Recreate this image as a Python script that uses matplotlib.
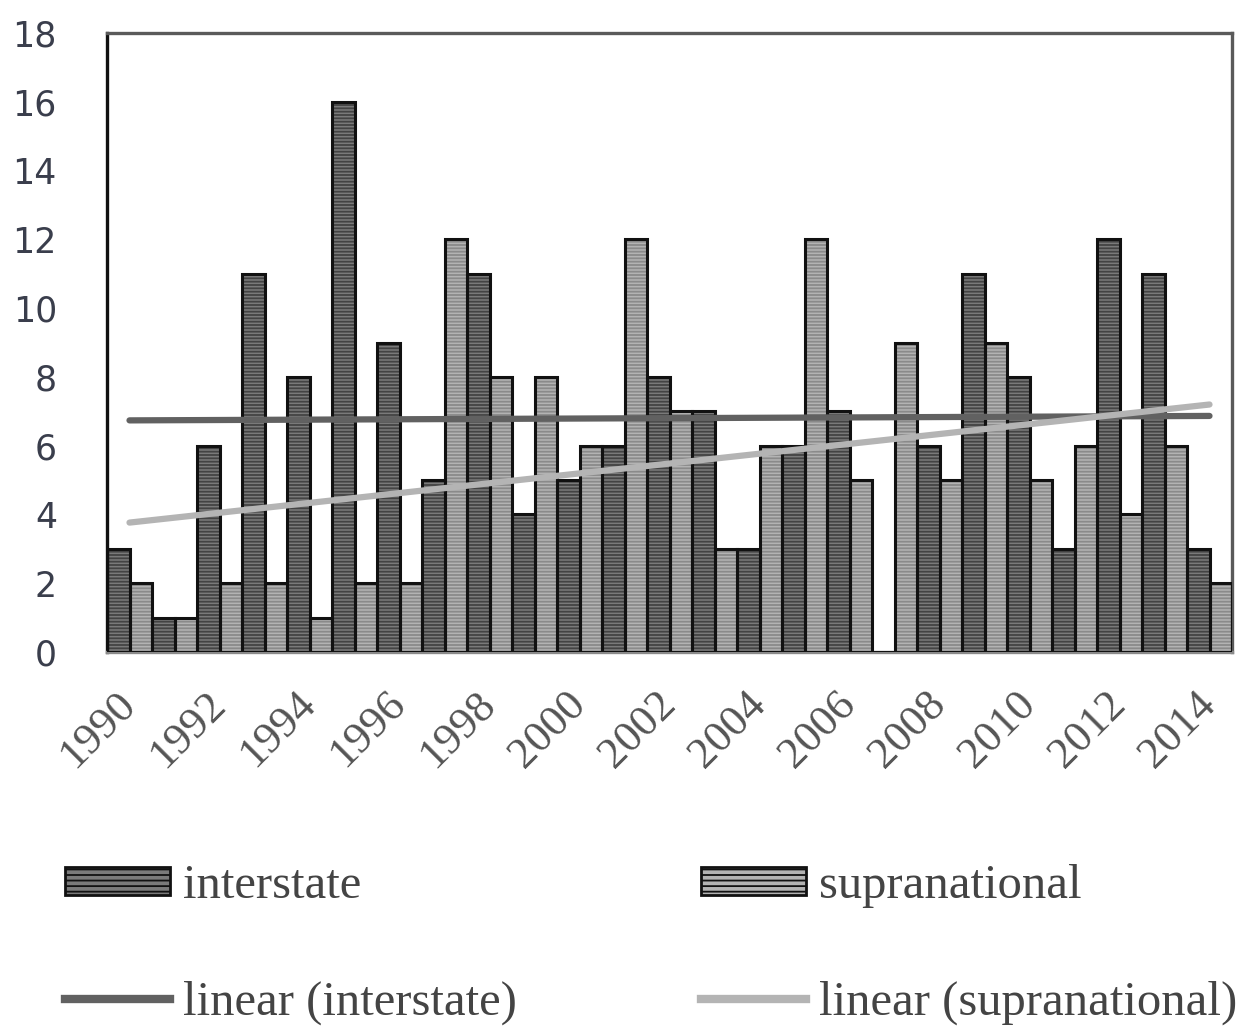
import numpy as np
import matplotlib
matplotlib.use("Agg")
import matplotlib.pyplot as plt
from matplotlib.patches import Patch
from matplotlib.lines import Line2D

years = list(range(1990, 2015))
interstate = [3, 1, 6, 11, 8, 16, 9, 5, 11, 4, 5, 6, 8, 7, 3, 6, 7, 0, 6, 11, 8, 3, 12, 11, 3]
supranational = [2, 1, 2, 2, 1, 2, 2, 12, 8, 8, 6, 12, 7, 3, 6, 12, 5, 9, 5, 9, 5, 6, 4, 6, 2]
tick_years = [str(y) for y in years[::2]]
y_ticks = list(range(0, 19, 2))
labels = ["interstate", "supranational", "linear (interstate)", "linear (supranational)"]

plt.rcParams['hatch.linewidth'] = 1.3

fig = plt.figure(figsize=(12.45, 10.3), dpi=100)
ax = fig.add_axes([107/1245, 1-652/1030, (1232-107)/1245, (652-33)/1030])

x = np.arange(len(years))
w = 0.5
dark_face, dark_hatch = "#7a7a7a", "#434343"
light_face, light_hatch = "#b3b3b3", "#8a8a8a"

# fill + stripes
ax.bar(x - w/2, interstate, width=w, facecolor=dark_face, edgecolor=dark_hatch,
       hatch="-----", linewidth=0, zorder=2)
ax.bar(x + w/2, supranational, width=w, facecolor=light_face, edgecolor=light_hatch,
       hatch="-----", linewidth=0, zorder=2)
# outlines
ax.bar(x - w/2, interstate, width=w, fill=False, edgecolor="#111111", linewidth=2.2, zorder=3)
ax.bar(x + w/2, supranational, width=w, fill=False, edgecolor="#111111", linewidth=2.2, zorder=3)

# linear trends
xi = np.array(x, dtype=float)
pi = np.polyfit(xi, interstate, 1)
ps = np.polyfit(xi, supranational, 1)
ax.plot(xi, np.polyval(pi, xi), color="#616161", lw=4.5, solid_capstyle="round", zorder=4)
ax.plot(xi, np.polyval(ps, xi), color="#b4b4b4", lw=4.5, solid_capstyle="round", zorder=4)

ax.set_xlim(-0.5, len(years) - 0.5)
ax.set_ylim(0, 18)
ax.set_yticks(y_ticks)
ax.set_yticklabels([str(v) for v in y_ticks], fontsize=25, color="#3a3e4c",
                   family="DejaVu Sans")
ax.set_xticks(x[::2])
ax.set_xticklabels(tick_years, rotation=45, ha="right", va="center",
                   rotation_mode="anchor", fontsize=32, color="#555555",
                   family="Liberation Serif")
ax.tick_params(axis="both", length=0)
ax.tick_params(axis="y", pad=36)
ax.tick_params(axis="x", pad=33)

for s in ["top", "right"]:
    ax.spines[s].set_color("#5a5a5a")
    ax.spines[s].set_linewidth(2.4)
ax.spines["left"].set_color("#111111")
ax.spines["left"].set_linewidth(2.4)
ax.spines["bottom"].set_color("#8a8a8a")
ax.spines["bottom"].set_linewidth(2.4)

handles = [
    Patch(facecolor=dark_face, edgecolor="#111111", hatch="---", linewidth=2),
    Line2D([0], [0], color="#616161", lw=6),
    Patch(facecolor=light_face, edgecolor="#111111", hatch="---", linewidth=2),
    Line2D([0], [0], color="#b4b4b4", lw=6),
]
leg_labels = [labels[0], labels[2], labels[1], labels[3]]
leg = fig.legend(handles, leg_labels, loc="upper left", bbox_to_anchor=(65/1245, 1-864/1030),
                 ncol=2, frameon=False, prop={"family": "Liberation Serif", "size": 35},
                 handlelength=2.15, handleheight=0.5, handletextpad=0.27,
                 columnspacing=3.8, labelspacing=1.5, borderaxespad=0, borderpad=0)
for t in leg.get_texts():
    t.set_color("#444444")

fig.savefig("out.png", dpi=100)
